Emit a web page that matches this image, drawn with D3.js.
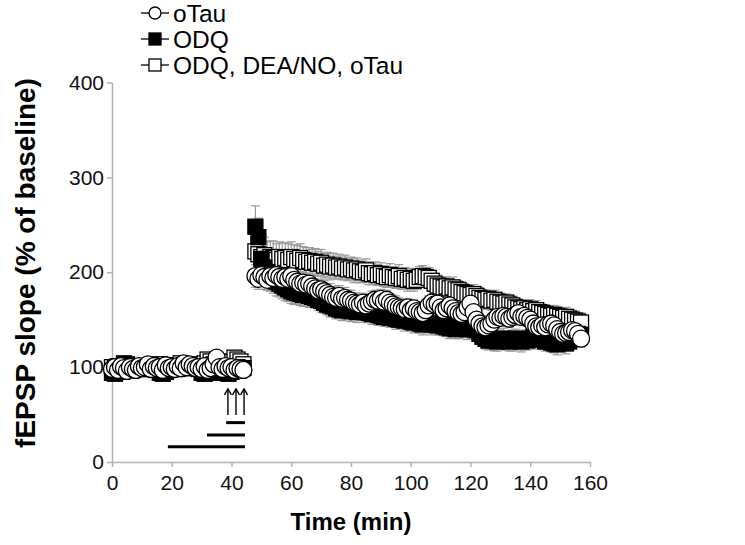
<!DOCTYPE html>
<html>
<head>
<meta charset="utf-8">
<script src="https://cdn.jsdelivr.net/npm/d3@7"></script>
<style>
  html, body { margin: 0; padding: 0; background: #fff; }
  svg { display: block; font-family: "Liberation Sans", Arial, sans-serif; }
</style>
</head>
<body>
<svg id="chart" width="745" height="545"></svg>
<script>
// ---------- data ----------
const time = [
  0, 1, 2, 3, 4, 5, 6, 7, 8, 9, 10, 11, 12, 13, 14, 15, 16, 17, 18, 19, 20, 21, 22, 23, 24, 25, 26, 27, 28, 29,
  30, 31, 32, 33, 34, 35, 36, 37, 38, 39, 40, 41, 42, 43, 44,
  48, 49, 50, 51, 52, 53, 54, 55, 56, 57, 58, 59, 60, 61, 62, 63, 64, 65, 66, 67, 68, 69, 70, 71, 72, 73, 74, 75, 76, 77,
  78, 79, 80, 81, 82, 83, 84, 85, 86, 87, 88, 89, 90, 91, 92, 93, 94, 95, 96, 97, 98, 99, 100, 101, 102, 103, 104, 105, 106, 107,
  108, 109, 110, 111, 112, 113, 114, 115, 116, 117, 118, 119, 120, 121, 122, 123, 124, 125, 126, 127,
  128, 129, 130, 131, 132, 133, 134, 135, 136, 137, 138, 139, 140, 141, 142, 143, 144, 145, 146, 147,
  148, 149, 150, 151, 152, 153, 154, 155, 156, 157
];

const oTau = [
  98, 100, 97, 101, 99, 96, 100, 98, 97, 101, 99, 100, 103, 98, 101, 99, 100, 97, 102, 99,
  100, 98, 101, 99, 104, 100, 103, 101, 99, 100, 98, 101, 97, 99, 103, 110, 100, 98, 101, 99,
  100, 97, 99, 98, 97,
  196, 193, 197, 195, 192, 196, 194, 197, 195, 193, 195, 193, 196, 192, 190, 188, 189, 187, 188, 185,
  183, 181, 182, 180, 178, 176, 174, 173, 175, 172, 173, 171, 170, 168, 167, 166, 168, 165, 167, 169,
  171, 170, 172, 169, 171, 168, 166, 164, 163, 162, 161, 163, 160, 162, 159, 158, 157, 160, 165, 168,
  166, 167, 163, 160, 162, 165, 162, 159, 157, 156, 158, 163, 167, 158, 150, 146, 143, 142, 144, 146,
  150, 153, 152, 154, 153, 151, 153, 155, 157, 153, 154, 152, 150, 146, 143, 142, 144, 142, 145, 146,
  144, 140, 137, 135, 136, 137, 139, 138, 135, 130
];
const oTauErr = [
  5, 4, 5, 6, 4, 5, 5, 4, 6, 5, 4, 5, 6, 5, 4, 5, 5, 6, 4, 5, 5, 4, 6, 5, 5, 4, 6, 5, 4, 5,
  6, 4, 5, 5, 4, 7, 5, 4, 5, 6, 4, 5, 5, 4, 5,
  12, 11, 12, 13, 11, 12, 12, 11, 12, 11, 11, 12, 11, 10, 11, 12, 11, 10, 11, 12, 10, 11, 10, 11, 10, 12, 11, 10, 11, 10,
  11, 10, 11, 10, 11, 10, 10, 9, 10, 11, 10, 9, 10, 11, 10, 9, 10, 11, 10, 9, 10, 9, 10, 9, 10, 11, 10, 9, 10, 9,
  10, 9, 10, 9, 10, 9, 10, 9, 9, 10, 9, 10, 9, 10, 9, 10, 9, 9, 10, 9, 9, 10, 9, 9, 10, 9, 9, 10, 9, 9,
  10, 9, 9, 10, 9, 9, 10, 9, 9, 10, 9, 9, 10, 9, 9, 10, 9, 9, 10, 9
];

const odq = [
  94, 93, 95, 100, 104, 103, 99, 98, 100, 101, 99, 98, 100, 102, 101, 100, 94, 93, 95, 99,
  100, 101, 98, 99, 100, 102, 101, 100, 99, 98, 94, 93, 95, 94, 99, 100, 101, 100, 94, 93,
  95, 99, 100, 98, 99,
  248, 237, 214, 205, 200, 196, 193, 190, 188, 186, 184, 182, 180, 179, 178, 177, 176, 176, 175, 174,
  173, 171, 170, 168, 166, 165, 164, 162, 161, 160, 161, 160, 159, 160, 158, 159, 160, 158, 157, 156,
  157, 155, 154, 153, 154, 152, 153, 151, 150, 151, 149, 150, 148, 147, 148, 146, 145, 147, 146, 145,
  146, 144, 145, 143, 142, 141, 142, 140, 141, 142, 141, 140, 142, 140, 139, 135, 132, 130, 128, 129,
  128, 127, 129, 130, 128, 127, 128, 130, 128, 127, 129, 128, 130, 132, 131, 130, 129, 127, 128, 126,
  125, 124, 126, 127, 125, 127, 130, 133, 135, 134
];
const odqErr = [
  6, 5, 6, 7, 5, 6, 6, 5, 7, 6, 5, 6, 7, 6, 5, 6, 6, 7, 5, 6, 6, 5, 7, 6, 6, 5, 7, 6, 6, 5,
  6, 7, 5, 6, 6, 5, 6, 7, 5, 6, 6, 5, 6, 7, 5,
  22, 20, 18, 17, 16, 16, 15, 15, 14, 14, 14, 13, 13, 13, 12, 12, 12, 12, 12, 11, 11, 11, 12, 11, 11, 12, 11, 11, 10, 11,
  11, 10, 11, 10, 11, 10, 10, 11, 10, 11, 10, 11, 10, 10, 11, 10, 10, 11, 10, 10, 11, 10, 10, 11, 10, 10, 11, 10, 10, 11,
  10, 10, 11, 10, 10, 11, 10, 10, 11, 10, 10, 11, 10, 10, 11, 10, 10, 11, 10, 10, 11, 10, 10, 11, 10, 10, 11, 10, 10, 11,
  10, 10, 11, 10, 10, 11, 10, 10, 11, 10, 10, 11, 10, 10, 11, 10, 10, 11, 10, 10
];

const odqDea = [
  100, 99, 101, 98, 100, 102, 99, 97, 100, 101, 98, 100, 99, 102, 100, 101, 103, 100, 98, 99,
  101, 100, 102, 104, 102, 100, 99, 101, 103, 100, 102, 104, 108, 106, 103, 101, 102, 104, 106, 102,
  105, 110, 108, 106, 103,
  222, 219, 216, 218, 214, 216, 215, 213, 216, 214, 215, 213, 216, 214, 212, 215, 213, 211, 212, 210,
  211, 209, 210, 207, 208, 206, 207, 205, 206, 204, 205, 203, 204, 202, 203, 201, 200, 202, 199, 198,
  199, 197, 198, 196, 195, 197, 195, 194, 196, 193, 194, 192, 193, 191, 192, 195, 196, 195, 194, 191,
  188, 186, 185, 184, 185, 183, 184, 182, 181, 179, 178, 177, 176, 177, 175, 173, 172, 171, 172, 170,
  171, 169, 168, 167, 168, 166, 165, 163, 162, 161, 162, 160, 161, 159, 160, 158, 157, 156, 155, 154,
  155, 154, 153, 152, 153, 151, 150, 149, 148, 147
];
const odqDeaErr = [
  5, 5, 6, 4, 5, 6, 5, 5, 4, 6, 5, 5, 6, 5, 4, 5, 6, 5, 5, 4, 6, 5, 5, 6, 5, 5, 4, 6, 5, 5,
  6, 5, 7, 6, 5, 5, 6, 5, 4, 6, 5, 7, 6, 5, 5,
  20, 19, 18, 19, 18, 17, 18, 17, 16, 17, 16, 17, 16, 15, 16, 15, 14, 15, 14, 14, 14, 13, 14, 13, 13, 14, 13, 12, 13, 12,
  13, 12, 12, 13, 12, 12, 11, 12, 12, 11, 12, 11, 12, 11, 11, 12, 11, 11, 12, 11, 11, 12, 11, 11, 10, 11, 11, 10, 11, 11,
  10, 11, 10, 11, 10, 10, 11, 10, 10, 11, 10, 10, 11, 10, 10, 11, 10, 10, 9, 10, 10, 9, 10, 10, 9, 10, 10, 9, 10, 10,
  9, 10, 10, 9, 10, 10, 9, 10, 10, 9, 10, 10, 9, 10, 10, 9, 10, 10, 9, 10
];

const xTicks = [0, 20, 40, 60, 80, 100, 120, 140, 160];
const yTicks = [0, 100, 200, 300, 400];

// drug application bars (min) and their heights (% units), HFS arrows
const barStart = [18.7, 31.8, 38.2];
const barEnd = [44.5, 44.5, 44.5];
const barLevel = [16, 28.5, 41.5];
const arrowTimes = [38.8, 41.5, 44.2];
const arrowLow = 49.5;
const arrowHigh = 77;

// ---------- render ----------
const svg = d3.select("#chart");
const x = d3.scaleLinear().domain([0, 160]).range([112, 590]);
const y = d3.scaleLinear().domain([0, 400]).range([462, 82.5]);
const AXIS_GREY = "#b3b3b3";

const series = [
  { name: "ODQ, DEA/NO, oTau", shape: "square", fill: "#fff", values: odqDea, err: odqDeaErr },
  { name: "ODQ", shape: "square", fill: "#000", values: odq, err: odqErr },
  { name: "oTau", shape: "circle", fill: "#fff", values: oTau, err: oTauErr },
];

// axes
const gx = svg.append("g")
  .attr("transform", `translate(0,${y(0)})`)
  .call(d3.axisBottom(x).tickValues(xTicks).tickSize(5).tickSizeOuter(0).tickPadding(8));
const gy = svg.append("g")
  .attr("transform", `translate(${x(0)},0)`)
  .call(d3.axisLeft(y).tickValues(yTicks).tickSize(5).tickSizeOuter(0).tickPadding(3));
[gx, gy].forEach((g) => {
  g.select(".domain").attr("stroke", AXIS_GREY).attr("stroke-width", 1.5);
  g.selectAll(".tick line").attr("stroke", AXIS_GREY).attr("stroke-width", 1.5);
  g.selectAll(".tick text")
    .attr("font-family", "'Liberation Sans', Arial, sans-serif")
    .attr("font-size", 21)
    .attr("fill", "#111");
});

svg.append("text")
  .attr("x", x(80)).attr("y", 530)
  .attr("text-anchor", "middle")
  .attr("font-size", 24).attr("font-weight", 700)
  .text("Time (min)");

svg.append("text")
  .attr("transform", `translate(35,263) rotate(-90)`)
  .attr("text-anchor", "middle")
  .attr("font-size", 28).attr("font-weight", 700)
  .text("fEPSP slope (% of baseline)");

// error bars (grey, behind the markers)
const errLayer = svg.append("g").attr("stroke", "#9a9a9a").attr("stroke-width", 1.2);
series.forEach((s) => {
  time.forEach((t, i) => {
    const v = s.values[i];
    const e = s.err[i] || 0;
    if (v == null) return;
    errLayer.append("line").attr("x1", x(t)).attr("x2", x(t)).attr("y1", y(v - e)).attr("y2", y(v + e));
    [v - e, v + e].forEach((ev) => {
      errLayer.append("line").attr("x1", x(t) - 4.5).attr("x2", x(t) + 4.5).attr("y1", y(ev)).attr("y2", y(ev));
    });
  });
});

// markers
function drawMarker(g, shape, fill, cx, cy, size) {
  if (shape === "circle") {
    g.append("circle").attr("cx", cx).attr("cy", cy).attr("r", size / 2)
      .attr("fill", fill).attr("stroke", "#000").attr("stroke-width", 1.3);
  } else {
    g.append("rect").attr("x", cx - size / 2).attr("y", cy - size / 2)
      .attr("width", size).attr("height", size)
      .attr("fill", fill).attr("stroke", "#000").attr("stroke-width", 1.3);
  }
}

series.forEach((s) => {
  const g = svg.append("g");
  time.forEach((t, i) => {
    if (s.values[i] == null) return;
    drawMarker(g, s.shape, s.fill, x(t), y(s.values[i]), s.shape === "circle" ? 17 : 15);
  });
});

// drug bars
const barLayer = svg.append("g").attr("stroke", "#000").attr("stroke-width", 3);
barStart.forEach((b, i) => {
  barLayer.append("line")
    .attr("x1", x(b)).attr("x2", x(barEnd[i]))
    .attr("y1", y(barLevel[i])).attr("y2", y(barLevel[i]));
});

// HFS arrows
const arrowLayer = svg.append("g").attr("stroke", "#000").attr("stroke-width", 1.4).attr("fill", "none");
arrowTimes.forEach((t) => {
  const ax = x(t), top = y(arrowHigh);
  arrowLayer.append("line").attr("x1", ax).attr("x2", ax).attr("y1", y(arrowLow)).attr("y2", top);
  arrowLayer.append("path").attr("d", `M${ax - 3.5},${top + 6}L${ax},${top}L${ax + 3.5},${top + 6}`);
});

// legend (order as in the figure)
const legendItems = [series[2], series[1], series[0]];
const legend = svg.append("g");
legendItems.forEach((s, i) => {
  const ly = 13 + i * 26;
  legend.append("line").attr("x1", 141).attr("x2", 169).attr("y1", ly).attr("y2", ly)
    .attr("stroke", "#000").attr("stroke-width", 1.3);
  drawMarker(legend, s.shape, s.fill, 155, ly, 12);
  legend.append("text").attr("x", 173).attr("y", ly + 8.5)
    .attr("font-size", 24.5).attr("fill", "#000")
    .text(s.name);
});
</script>
</body>
</html>
